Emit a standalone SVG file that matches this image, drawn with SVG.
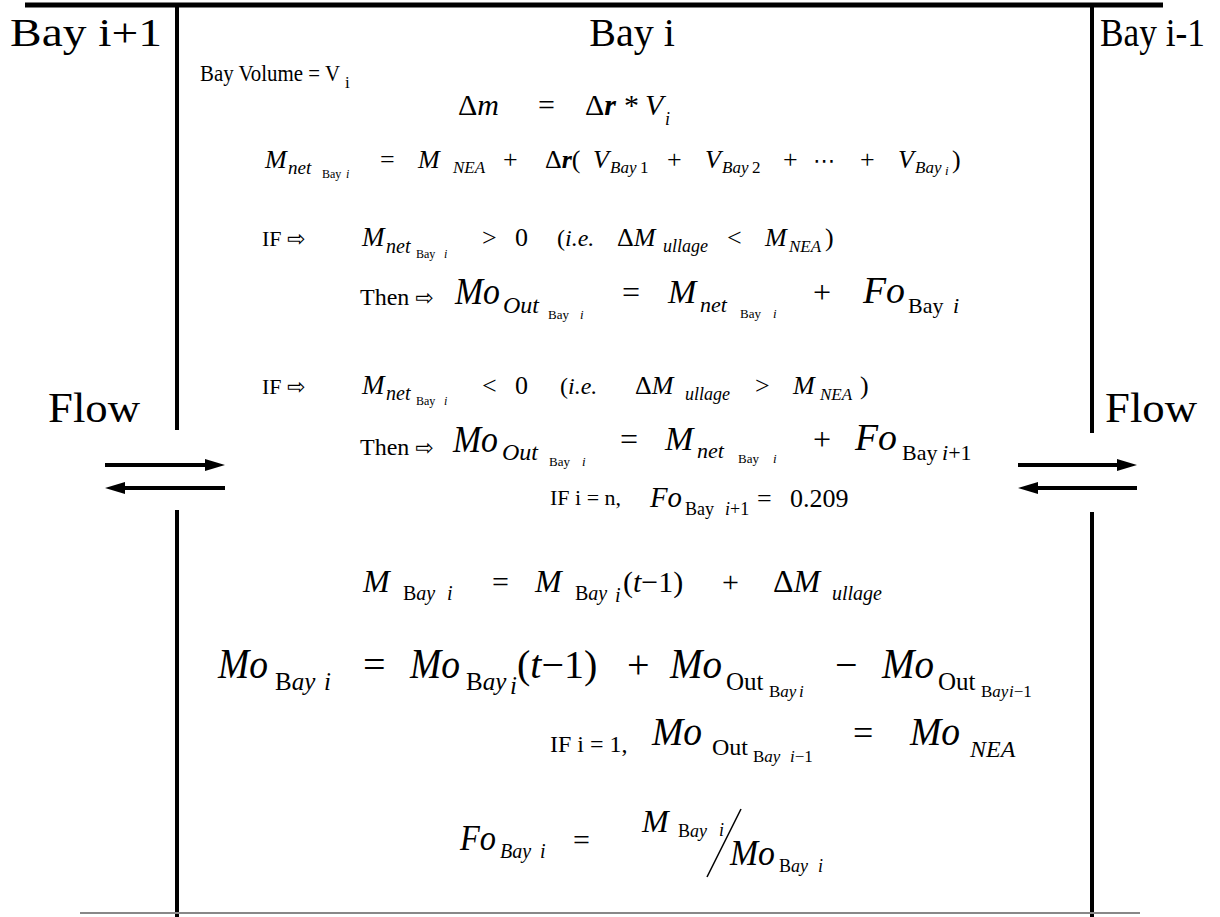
<svg xmlns="http://www.w3.org/2000/svg" width="1220" height="917" viewBox="0 0 1220 917">
<defs>
<style>
text{fill:#000}
.i{font-style:italic}
.b{font-weight:bold}
.ar{font-family:"DejaVu Sans",sans-serif}
.wall{stroke:#000;stroke-width:4;fill:none}
.flow{stroke:#000;stroke-width:4;fill:none}
</style>
<marker id="ah" viewBox="0 0 10 6" refX="0" refY="3" markerWidth="5" markerHeight="3" orient="auto" markerUnits="strokeWidth">
<path d="M0,0 L10,3 L0,6 z" fill="#000"/>
</marker>
</defs>
<rect width="1220" height="917" fill="#fff"/>

<g id="walls">
<line x1="25" y1="5" x2="1163" y2="5" stroke="#000" stroke-width="5"/>
<line class="wall" x1="177" y1="5" x2="177" y2="430"/>
<line class="wall" x1="177" y1="510" x2="177" y2="917"/>
<line class="wall" x1="1092" y1="5" x2="1092" y2="433"/>
<line class="wall" x1="1092" y1="512" x2="1092" y2="917"/>
<line x1="80" y1="913" x2="1140" y2="913" stroke="#888" stroke-width="2"/>
</g>

<g id="bay-left" style="font-family:'Liberation Serif','Times New Roman',serif">
<text x="10" y="46" font-size="40" textLength="152" lengthAdjust="spacingAndGlyphs">Bay i+1</text>
<text x="48" y="422" font-size="42" textLength="92" lengthAdjust="spacingAndGlyphs">Flow</text>
</g>

<g id="bay-right" style="font-family:'Liberation Serif','Times New Roman',serif">
<text x="1100" y="46" font-size="40" textLength="105" lengthAdjust="spacingAndGlyphs">Bay i-1</text>
<text x="1105" y="422" font-size="42" textLength="92" lengthAdjust="spacingAndGlyphs">Flow</text>
</g>

<g id="connectors">
<line class="flow" x1="105" y1="465" x2="205" y2="465" marker-end="url(#ah)"/>
<line class="flow" x1="225" y1="488" x2="125" y2="488" marker-end="url(#ah)"/>
<line class="flow" x1="1018" y1="465" x2="1117" y2="465" marker-end="url(#ah)"/>
<line class="flow" x1="1137" y1="488" x2="1038" y2="488" marker-end="url(#ah)"/>
</g>

<g id="bay-center" style="font-family:'Liberation Serif','Times New Roman',serif">
<text x="632" y="46" font-size="40" text-anchor="middle">Bay i</text>
<text x="200" y="81" font-size="23" textLength="140" lengthAdjust="spacingAndGlyphs">Bay Volume = V</text>
<text x="345" y="88" font-size="17">i</text>

<!-- line 1 -->
<text x="458" y="115" font-size="30">Δ<tspan class="i">m</tspan></text>
<text x="538" y="115" font-size="30">=</text>
<text x="585" y="115" font-size="30">Δ<tspan class="b i">r</tspan></text>
<text x="624" y="115" font-size="30">*</text>
<text x="645" y="115" font-size="30" class="i">V</text>
<text x="665" y="125" font-size="18" class="i">i</text>

<!-- line 2 -->
<text x="265" y="168" font-size="26" class="i">M</text>
<text x="288" y="174" font-size="19" class="i">net</text>
<text x="322" y="178" font-size="12">Bay</text>
<text x="346" y="178" font-size="12" class="i">i</text>
<text x="380" y="168" font-size="26">=</text>
<text x="418" y="168" font-size="26" class="i">M</text>
<text x="453" y="173" font-size="17" class="i">NEA</text>
<text x="503" y="168" font-size="26">+</text>
<text x="545" y="168" font-size="26">Δ<tspan class="b i">r</tspan>(</text>
<text x="593" y="168" font-size="26" class="i">V</text>
<text x="610" y="173" font-size="17" class="i">Bay</text>
<text x="640" y="173" font-size="17">1</text>
<text x="667" y="168" font-size="26">+</text>
<text x="705" y="168" font-size="26" class="i">V</text>
<text x="722" y="173" font-size="17" class="i">Bay</text>
<text x="752" y="173" font-size="17">2</text>
<text x="783" y="168" font-size="26">+</text>
<text x="813" y="168" font-size="22" class="ar">⋯</text>
<text x="860" y="168" font-size="26">+</text>
<text x="898" y="168" font-size="26" class="i">V</text>
<text x="915" y="173" font-size="17" class="i">Bay</text>
<text x="945" y="175" font-size="13" class="i">i</text>
<text x="952" y="168" font-size="26">)</text>

<!-- line 3 -->
<text x="262" y="246" font-size="22">IF <tspan class="ar" font-size="22">⇨</tspan></text>
<text x="362" y="246" font-size="27" class="i">M</text>
<text x="386" y="253" font-size="20" class="i">net</text>
<text x="416" y="258" font-size="12">Bay</text>
<text x="444" y="258" font-size="12" class="i">i</text>
<text x="482" y="246" font-size="26">&gt;</text>
<text x="515" y="246" font-size="26">0</text>
<text x="557" y="246" font-size="24">(<tspan class="i">i.e.</tspan></text>
<text x="617" y="246" font-size="26">Δ<tspan class="i">M</tspan></text>
<text x="663" y="252" font-size="18" class="i">ullage</text>
<text x="727" y="246" font-size="26">&lt;</text>
<text x="765" y="246" font-size="26" class="i">M</text>
<text x="789" y="252" font-size="17" class="i">NEA</text>
<text x="825" y="246" font-size="26">)</text>

<!-- line 4 -->
<text x="360" y="305" font-size="24">Then <tspan class="ar" font-size="22">⇨</tspan></text>
<text x="455" y="304" font-size="38" class="i" textLength="45" lengthAdjust="spacingAndGlyphs">Mo</text>
<text x="503" y="313" font-size="24" class="i">Out</text>
<text x="548" y="319" font-size="13">Bay</text>
<text x="580" y="319" font-size="13" class="i">i</text>
<text x="622" y="303" font-size="32">=</text>
<text x="668" y="303" font-size="34" class="i">M</text>
<text x="700" y="312" font-size="22" class="i">net</text>
<text x="740" y="318" font-size="13">Bay</text>
<text x="773" y="318" font-size="13" class="i">i</text>
<text x="813" y="303" font-size="32">+</text>
<text x="863" y="303" font-size="38" class="i" textLength="42" lengthAdjust="spacingAndGlyphs">Fo</text>
<text x="908" y="313" font-size="22">Bay</text>
<text x="953" y="313" font-size="22" class="i">i</text>

<!-- line 5 -->
<text x="262" y="394" font-size="22">IF <tspan class="ar" font-size="22">⇨</tspan></text>
<text x="362" y="394" font-size="27" class="i">M</text>
<text x="386" y="400" font-size="20" class="i">net</text>
<text x="416" y="405" font-size="12">Bay</text>
<text x="444" y="405" font-size="12" class="i">i</text>
<text x="482" y="394" font-size="26">&lt;</text>
<text x="515" y="394" font-size="26">0</text>
<text x="560" y="394" font-size="24">(<tspan class="i">i.e.</tspan></text>
<text x="635" y="394" font-size="26">Δ<tspan class="i">M</tspan></text>
<text x="685" y="400" font-size="18" class="i">ullage</text>
<text x="755" y="394" font-size="26">&gt;</text>
<text x="793" y="394" font-size="26" class="i">M</text>
<text x="820" y="400" font-size="17" class="i">NEA</text>
<text x="860" y="394" font-size="26">)</text>

<!-- line 6 -->
<text x="360" y="455" font-size="24">Then <tspan class="ar" font-size="22">⇨</tspan></text>
<text x="453" y="452" font-size="38" class="i" textLength="45" lengthAdjust="spacingAndGlyphs">Mo</text>
<text x="502" y="460" font-size="24" class="i">Out</text>
<text x="549" y="466" font-size="13">Bay</text>
<text x="582" y="466" font-size="13" class="i">i</text>
<text x="620" y="450" font-size="32">=</text>
<text x="665" y="450" font-size="34" class="i">M</text>
<text x="697" y="458" font-size="22" class="i">net</text>
<text x="738" y="463" font-size="13">Bay</text>
<text x="773" y="463" font-size="13" class="i">i</text>
<text x="813" y="450" font-size="32">+</text>
<text x="855" y="450" font-size="38" class="i" textLength="42" lengthAdjust="spacingAndGlyphs">Fo</text>
<text x="902" y="460" font-size="22">Bay</text>
<text x="942" y="460" font-size="22"><tspan class="i">i</tspan>+1</text>

<!-- line 7 -->
<text x="550" y="505" font-size="22">IF i = n,</text>
<text x="650" y="507" font-size="30" class="i" textLength="32" lengthAdjust="spacingAndGlyphs">Fo</text>
<text x="685" y="515" font-size="18">Bay</text>
<text x="725" y="515" font-size="18"><tspan class="i">i</tspan>+1</text>
<text x="757" y="507" font-size="26">=</text>
<text x="790" y="507" font-size="26">0.209</text>

<!-- line 8 -->
<text x="363" y="592" font-size="32" class="i">M</text>
<text x="403" y="600" font-size="20">B<tspan class="i">ay</tspan></text>
<text x="447" y="600" font-size="20" class="i">i</text>
<text x="492" y="592" font-size="30">=</text>
<text x="535" y="592" font-size="32" class="i">M</text>
<text x="575" y="600" font-size="20">B<tspan class="i">ay</tspan></text>
<text x="615" y="602" font-size="20" class="i">i</text>
<text x="623" y="592" font-size="30">(<tspan class="i">t</tspan>−1)</text>
<text x="722" y="592" font-size="30">+</text>
<text x="773" y="592" font-size="32">Δ<tspan class="i">M</tspan></text>
<text x="832" y="600" font-size="20" class="i">ullage</text>

<!-- line 9 -->
<text x="218" y="678" font-size="42" class="i" textLength="50" lengthAdjust="spacingAndGlyphs">Mo</text>
<text x="275" y="690" font-size="25">B<tspan class="i">ay</tspan></text>
<text x="324" y="690" font-size="25" class="i">i</text>
<text x="363" y="678" font-size="40">=</text>
<text x="410" y="678" font-size="42" class="i" textLength="50" lengthAdjust="spacingAndGlyphs">Mo</text>
<text x="466" y="690" font-size="25">B<tspan class="i">ay</tspan></text>
<text x="510" y="694" font-size="25" class="i">i</text>
<text x="517" y="678" font-size="40">(<tspan class="i">t</tspan>−1)</text>
<text x="627" y="678" font-size="40">+</text>
<text x="670" y="678" font-size="42" class="i" textLength="52" lengthAdjust="spacingAndGlyphs">Mo</text>
<text x="726" y="690" font-size="25">Out</text>
<text x="769" y="697" font-size="17">B<tspan class="i">ay</tspan></text>
<text x="799" y="697" font-size="17" class="i">i</text>
<text x="835" y="678" font-size="40">−</text>
<text x="882" y="678" font-size="42" class="i" textLength="52" lengthAdjust="spacingAndGlyphs">Mo</text>
<text x="938" y="690" font-size="25">Out</text>
<text x="981" y="697" font-size="17">B<tspan class="i">ay</tspan></text>
<text x="1009" y="697" font-size="17"><tspan class="i">i</tspan>−1</text>

<!-- line 10 -->
<text x="550" y="752" font-size="24">IF i = 1,</text>
<text x="652" y="745" font-size="40" class="i" textLength="50" lengthAdjust="spacingAndGlyphs">Mo</text>
<text x="712" y="755" font-size="24">Out</text>
<text x="753" y="762" font-size="17">B<tspan class="i">ay</tspan></text>
<text x="790" y="762" font-size="17"><tspan class="i">i</tspan>−1</text>
<text x="853" y="745" font-size="36">=</text>
<text x="910" y="745" font-size="40" class="i" textLength="50" lengthAdjust="spacingAndGlyphs">Mo</text>
<text x="970" y="757" font-size="24" class="i">NEA</text>

<!-- line 11 -->
<text x="460" y="850" font-size="36" class="i" textLength="36" lengthAdjust="spacingAndGlyphs">Fo</text>
<text x="500" y="858" font-size="20" class="i">Bay</text>
<text x="540" y="858" font-size="20" class="i">i</text>
<text x="573" y="850" font-size="30">=</text>
<text x="642" y="832" font-size="32" class="i">M</text>
<text x="678" y="837" font-size="18">B<tspan class="i">ay</tspan></text>
<text x="719" y="836" font-size="18" class="i">i</text>
<line x1="707" y1="877" x2="741" y2="809" stroke="#000" stroke-width="1.5"/>
<text x="730" y="865" font-size="36" class="i" textLength="45" lengthAdjust="spacingAndGlyphs">Mo</text>
<text x="779" y="872" font-size="18">B<tspan class="i">ay</tspan></text>
<text x="818" y="872" font-size="18" class="i">i</text>
</g>
</svg>
